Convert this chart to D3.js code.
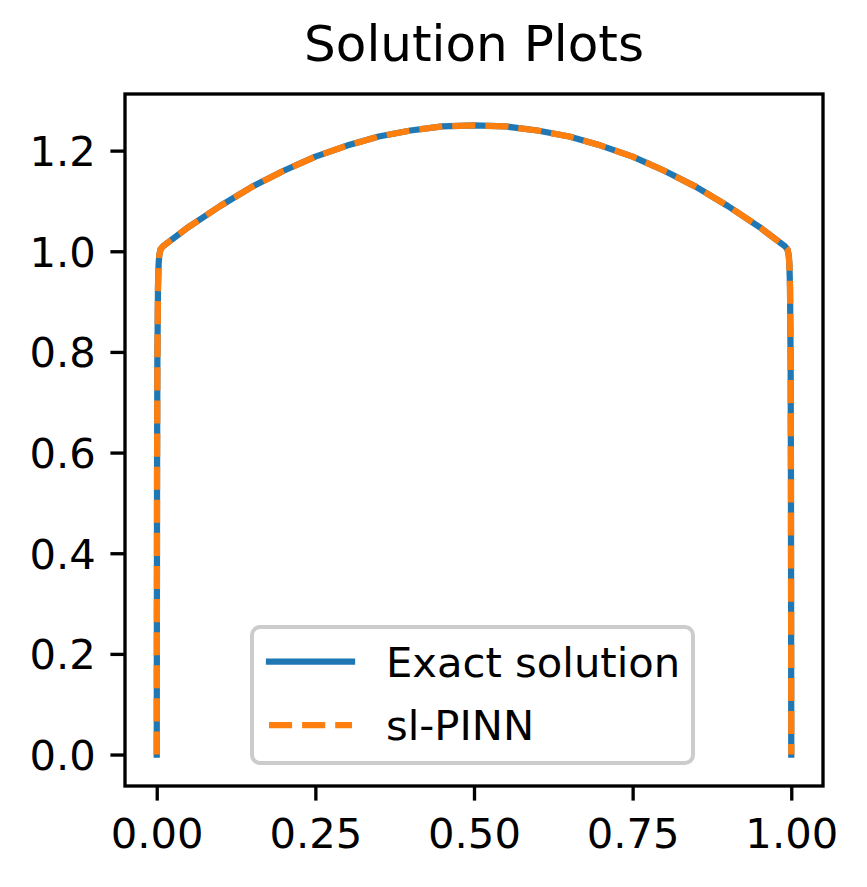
<!DOCTYPE html>
<html>
<head>
<meta charset="utf-8">
<script src="https://cdn.jsdelivr.net/npm/d3@7"></script>
<style>
  body { margin: 0; background: #fff; }
  svg { display: block; font-family: "DejaVu Sans", sans-serif; }
</style>
</head>
<body>
<div id="chart"></div>
<script>
// values
var xValues = [0, 0.0005, 0.001, 0.002, 0.003, 0.004, 0.006, 0.01, 0.05, 0.1, 0.15, 0.2, 0.25, 0.3, 0.35, 0.4,
    0.45, 0.5, 0.55, 0.6, 0.65, 0.7, 0.75, 0.8, 0.85, 0.9, 0.95, 0.99, 0.994, 0.996, 0.997, 0.998, 0.999, 0.9995, 1];
var exactValues = [0, 0.55, 0.78, 0.93, 0.975, 0.992, 1.004, 1.01, 1.048, 1.09, 1.128, 1.16, 1.188, 1.21, 1.228, 1.24,
    1.248, 1.25, 1.248, 1.24, 1.228, 1.21, 1.188, 1.16, 1.128, 1.09, 1.048, 1.01, 1.004, 0.992, 0.975, 0.93, 0.78, 0.55, 0];
var pinnValues = [0, 0.55, 0.78, 0.93, 0.975, 0.992, 1.004, 1.01, 1.048, 1.09, 1.128, 1.16, 1.188, 1.21, 1.228, 1.24,
    1.248, 1.25, 1.248, 1.24, 1.228, 1.21, 1.188, 1.16, 1.128, 1.09, 1.048, 1.01, 1.004, 0.992, 0.975, 0.93, 0.78, 0.55, 0];
var xTicks = [0, 0.25, 0.5, 0.75, 1];
var yTicks = [0, 0.2, 0.4, 0.6, 0.8, 1.0, 1.2];
var seriesNames = ["Exact solution", "sl-PINN"];

var width = 867, height = 887;
var box = { left: 125, right: 823, top: 94, bottom: 786 };
var fs = 41.7, lw = 6.25;

var svg = d3.select("#chart").append("svg")
    .attr("width", width)
    .attr("height", height);

var x = d3.scaleLinear().domain([-0.05, 1.05]).range([box.left, box.right]);
var y = d3.scaleLinear().domain([-0.0625, 1.3125]).range([box.bottom, box.top]);

var line = d3.line()
    .x(function (d) { return x(d[0]); })
    .y(function (d) { return y(d[1]); });

var exactData = xValues.map(function (v, i) { return [v, exactValues[i]]; });
var pinnData = xValues.map(function (v, i) { return [v, pinnValues[i]]; });

var plot = svg.append("g");

plot.append("path")
    .datum(exactData)
    .attr("d", line)
    .attr("fill", "none")
    .attr("stroke", "#1f77b4")
    .attr("stroke-width", lw)
    .attr("stroke-linejoin", "round")
    .attr("stroke-linecap", "square");

plot.append("path")
    .datum(pinnData)
    .attr("d", line)
    .attr("fill", "none")
    .attr("stroke", "#ff7f0e")
    .attr("stroke-width", lw)
    .attr("stroke-linejoin", "round")
    .attr("stroke-dasharray", "23.1,10");

// axes
var xAxis = d3.axisBottom(x).tickValues(xTicks).tickFormat(d3.format(".2f"))
    .tickSize(14.6).tickPadding(14.6).tickSizeOuter(0);
var yAxis = d3.axisLeft(y).tickValues(yTicks).tickFormat(d3.format(".1f"))
    .tickSize(14.6).tickPadding(14.6).tickSizeOuter(0);

var gx = svg.append("g").attr("transform", "translate(0," + box.bottom + ")").call(xAxis);
var gy = svg.append("g").attr("transform", "translate(" + box.left + ",0)").call(yAxis);

[gx, gy].forEach(function (g) {
    g.select(".domain").remove();
    g.selectAll(".tick line").attr("stroke", "#000").attr("stroke-width", 3.33);
    g.selectAll(".tick text")
        .attr("fill", "#000")
        .style("font-family", "DejaVu Sans")
        .style("font-size", fs + "px");
});
gx.selectAll(".tick text").attr("dy", "0.78em");
gy.selectAll(".tick text").attr("dy", "0.36em");

// frame
svg.append("rect")
    .attr("x", box.left)
    .attr("y", box.top)
    .attr("width", box.right - box.left)
    .attr("height", box.bottom - box.top)
    .attr("fill", "none")
    .attr("stroke", "#000")
    .attr("stroke-width", 3.33);

// title
svg.append("text")
    .attr("x", (box.left + box.right) / 2)
    .attr("y", 61)
    .attr("text-anchor", "middle")
    .style("font-size", "50px")
    .text("Solution Plots");

// legend
var legend = svg.append("g");
legend.append("rect")
    .attr("x", 252)
    .attr("y", 627)
    .attr("width", 441)
    .attr("height", 136)
    .attr("rx", 8)
    .attr("fill", "#fff")
    .attr("fill-opacity", 0.8)
    .attr("stroke", "#cccccc")
    .attr("stroke-width", 4);

var legendColors = ["#1f77b4", "#ff7f0e"];
var legendDash = [null, "23.1,10"];
seriesNames.forEach(function (name, i) {
    var ly = 661.7 + i * 63.3;
    legend.append("line")
        .attr("x1", 269).attr("x2", 352)
        .attr("y1", ly).attr("y2", ly)
        .attr("stroke", legendColors[i])
        .attr("stroke-width", lw)
        .attr("stroke-linecap", i === 0 ? "square" : "butt")
        .attr("stroke-dasharray", legendDash[i]);
    legend.append("text")
        .attr("x", 386)
        .attr("y", ly + 15)
        .style("font-size", fs + "px")
        .text(name);
});
</script>
</body>
</html>
